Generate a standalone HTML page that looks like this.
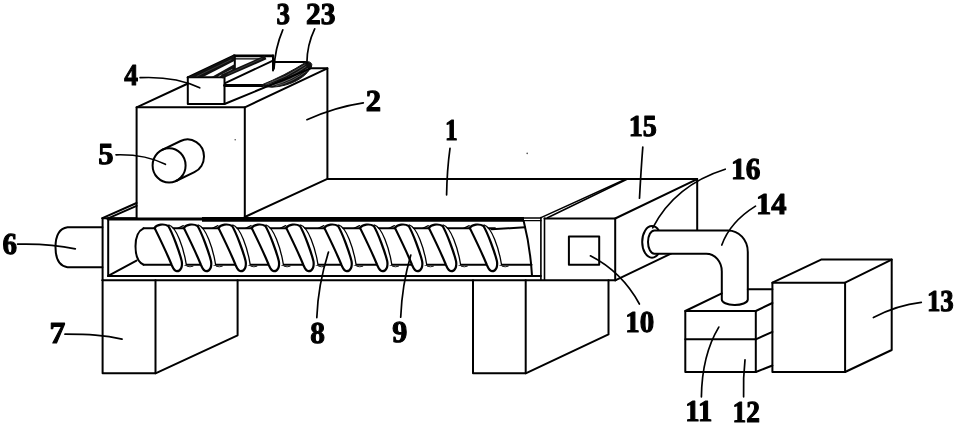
<!DOCTYPE html>
<html><head><meta charset="utf-8"><title>Figure</title>
<style>
html,body{margin:0;padding:0;background:#fff;}
svg{display:block;filter:grayscale(1) blur(0.45px);}
svg text{text-rendering:geometricPrecision;font-family:"Liberation Serif","DejaVu Serif",serif;font-weight:bold;fill:#000;stroke:#000;stroke-width:1.1px;stroke-linejoin:round;}
#lab{opacity:0.999;}
</style></head><body>
<svg width="957" height="425" viewBox="0 0 957 425" fill="none" stroke="#000" stroke-width="2" stroke-linecap="round" stroke-linejoin="round">
<rect x="0" y="0" width="957" height="425" fill="#fff" stroke="none"/>
<path d="M136.6 217.6 V107.3 H244.8 V217.6"/>
<path d="M244.8 107.3 L327.4 68.4 V178.8 L244.8 217"/>
<path d="M136.6 107.3 L188 83.5"/>
<ellipse cx="169.1" cy="165.4" rx="16.5" ry="17.2"/>
<path d="M162.2 149.8 L180.6 141 A16.5 17.2 0 0 1 204 156.6 A16.5 17.2 0 0 1 194.4 172.2 L176 181"/>
<path d="M187.8 77.3 H224.5 V104 H187.8 Z"/>
<path d="M187.6 77.4 L234.1 55.5"/>
<path d="M234.1 55.9 H273" stroke-width="2.7"/>
<path d="M273 55.5 V70.5"/>
<path d="M234.8 55.6 V70.2"/>
<path d="M235 58.8 H259" stroke-width="1.3"/>
<path d="M187.6 77.4 L234.1 55.3 L234.8 60.7 L202.6 77.2 Z" fill="#111" stroke="none"/>
<path d="M211.2 77.2 L234.8 63.9 L234.8 69.9 L221.4 77.2 Z" fill="#111" stroke="none"/>
<path d="M219 76.2 L232 69.6" stroke-width="0.7" stroke="#ddd"/>
<path d="M197 76.2 L231 59.8" stroke-width="0.4" stroke="#777"/>
<path d="M221.8 76.6 L265.6 57.4" stroke-width="4.3" stroke-linecap="butt" stroke="#111"/>
<path d="M228 74 L262 58.6" stroke-width="0.4" stroke="#777"/>
<path d="M225.1 83.2 L273 60.6"/>
<path d="M224.6 85.5 H262.5" stroke-width="2.9"/>
<path d="M273 62.1 H305.5"/>
<path d="M260.5 85.4 Q285 75.5 305.6 62.4 Q310.2 60.4 311.8 64.5 Q312.2 67.3 309.5 69.6 C304.5 77.6, 291 86.2, 272 87.2 Q266 87.2 260.5 85.4 Z" fill="#111" stroke="#111" stroke-width="1"/>
<path d="M268 84.9 Q288 79.5 306 66.5" stroke-width="0.5" stroke="#999"/>
<path d="M272 85.6 Q291 81 307.5 68.6" stroke-width="0.6" stroke="#aaa"/>
<path d="M276 86 Q293 82 308 70" stroke-width="0.5" stroke="#999"/>
<path d="M266 84.3 Q286 77.5 305 64.8" stroke-width="0.5" stroke="#999"/>
<path d="M224.5 104 L311.5 68.2 H327.4"/>
<path d="M327.4 178.9 H697.2"/>
<path d="M102.6 218.2 V280.3"/>
<path d="M108.2 220.6 V275.9"/>
<path d="M102.4 280.3 H615.7"/>
<path d="M108.2 275.9 H540.9"/>
<path d="M102.4 218.2 H136.6"/>
<path d="M102.4 218.2 L136.6 203"/>
<path d="M107.5 218.6 L136.6 205.8"/>
<path d="M108.2 275.9 L136.5 260.6"/>
<path d="M108.2 219 H203" stroke-width="3.1"/>
<path d="M202 219.4 H524" stroke-width="4.8" stroke-linecap="butt"/>
<path d="M523 218 H541" stroke-width="1.3"/>
<path d="M523 220.7 H541" stroke-width="1.3"/>
<path d="M540.9 217.6 V280.3 M544.5 218.2 V280.3" stroke-width="1.6"/>
<path d="M102.4 227.2 H67.5 Q55.5 229 55.5 247.2 Q55.5 265.5 67.5 267.2 H102.4"/>
<path d="M102.6 280.3 V373.3 H155.5 V280.3"/>
<path d="M155.5 373.3 L237.6 335.3 V280.3"/>
<path d="M473 280.3 V373.3 H525.7 V280.3"/>
<path d="M525.7 373.3 L608.5 334.4 V280.3"/>
<path d="M544.5 218.5 H615.2 V280.3"/>
<path d="M615.2 218.5 L697.2 179.1 V230.4"/>
<path d="M615.2 280.3 L671 253.6"/>
<path d="M541 217.6 L625.5 179.3" stroke-width="1.5"/>
<path d="M547.5 217.8 L627 179.3" stroke-width="1.5"/>
<path d="M568.9 236.5 H599.2 V264.8 H568.9 Z"/>
<ellipse cx="652" cy="241.9" rx="9.8" ry="15.8"/>
<path d="M654.4 230.4 H728 A19.8 21.5 0 0 1 747.8 251.9 V299.6 A13 5.6 0 0 1 721.8 299.2 V271.5 A15.5 17.8 0 0 0 706.3 253.7 H654.4 A6.4 11.65 0 0 1 654.4 230.4 Z" fill="#fff"/>
<path d="M685.3 311 H755.8 V372 H685.3 Z"/>
<path d="M685.3 339.3 H755.8"/>
<path d="M755.8 311 L772.4 303 M755.8 339.3 L772.4 331.8 M755.8 372 L772.4 365.5"/>
<path d="M685.3 311 L721.8 293.3"/>
<path d="M747.8 289.2 H772.4"/>
<path d="M772.4 282.7 H845.1 V372 H772.4 Z"/>
<path d="M772.4 282.7 L821.1 259.6 H891.7 V350 L845.1 372"/>
<path d="M845.1 282.7 L891.7 259.6"/>
<path d="M143.5 228.3 Q135.5 232 135.5 246.3 Q135.5 261 143.5 264.7"/>
<path d="M143.5 228.3 H495 M143.5 264.7 H531.5"/>
<path d="M491.5 229.3 L525 227.3"/>
<path d="M523.8 221.4 C527.5 236 530.8 256 532 275.6"/>
<path d="M167.5 225 C176.5 227.5 183.5 247 186.3 264.6 L181.5 267 L166.5 230 Z" fill="#fff" stroke="none"/>
<path d="M169.0 225 C176.5 227.5 183.5 247 186.3 264.6" stroke-width="1.3"/>
<path d="M154.5 227.8 C157.0 224.3 164.0 223.4 168.3 226 C172.5 233 179.5 252 181.7 261 C182.7 266.5 180.8 271.3 176.8 271.2 C173.9 270.8 173.3 268.5 171.5 264.5 C165.5 250 160.5 240 154.5 227.8 Z" stroke-width="2.2" fill="#fff"/>
<path d="M187.0 266.3 Q190.0 267.4 193.0 266.3" stroke-width="0.9"/>
<path d="M196.8 225 C205.8 227.5 212.8 247 215.6 264.6 L210.8 267 L195.8 230 Z" fill="#fff" stroke="none"/>
<path d="M198.3 225 C205.8 227.5 212.8 247 215.6 264.6" stroke-width="1.3"/>
<path d="M183.8 227.8 C186.3 224.3 193.3 223.4 197.6 226 C201.8 233 208.8 252 211.0 261 C212.0 266.5 210.1 271.3 206.1 271.2 C203.2 270.8 202.6 268.5 200.8 264.5 C194.8 250 189.8 240 183.8 227.8 Z" stroke-width="2.2" fill="#fff"/>
<path d="M216.3 266.3 Q219.3 267.4 222.3 266.3" stroke-width="0.9"/>
<path d="M177.8 228.3 L183.3 225.6" stroke-width="1.2"/>
<path d="M231.4 225 C240.4 227.5 247.4 247 250.2 264.6 L245.4 267 L230.4 230 Z" fill="#fff" stroke="none"/>
<path d="M232.9 225 C240.4 227.5 247.4 247 250.2 264.6" stroke-width="1.3"/>
<path d="M218.4 227.8 C220.9 224.3 227.9 223.4 232.2 226 C236.4 233 243.4 252 245.6 261 C246.6 266.5 244.7 271.3 240.7 271.2 C237.8 270.8 237.2 268.5 235.4 264.5 C229.4 250 224.4 240 218.4 227.8 Z" stroke-width="2.2" fill="#fff"/>
<path d="M250.9 266.3 Q253.9 267.4 256.9 266.3" stroke-width="0.9"/>
<path d="M212.4 228.3 L217.9 225.6" stroke-width="1.2"/>
<path d="M264.6 225 C273.6 227.5 280.6 247 283.4 264.6 L278.6 267 L263.6 230 Z" fill="#fff" stroke="none"/>
<path d="M266.1 225 C273.6 227.5 280.6 247 283.4 264.6" stroke-width="1.3"/>
<path d="M251.6 227.8 C254.1 224.3 261.1 223.4 265.4 226 C269.6 233 276.6 252 278.8 261 C279.8 266.5 277.9 271.3 273.9 271.2 C271.0 270.8 270.4 268.5 268.6 264.5 C262.6 250 257.6 240 251.6 227.8 Z" stroke-width="2.2" fill="#fff"/>
<path d="M284.1 266.3 Q287.1 267.4 290.1 266.3" stroke-width="0.9"/>
<path d="M245.6 228.3 L251.1 225.6" stroke-width="1.2"/>
<path d="M299.2 225 C308.2 227.5 315.2 247 318.0 264.6 L313.2 267 L298.2 230 Z" fill="#fff" stroke="none"/>
<path d="M300.7 225 C308.2 227.5 315.2 247 318.0 264.6" stroke-width="1.3"/>
<path d="M286.2 227.8 C288.7 224.3 295.7 223.4 300.0 226 C304.2 233 311.2 252 313.4 261 C314.4 266.5 312.5 271.3 308.5 271.2 C305.6 270.8 305.0 268.5 303.2 264.5 C297.2 250 292.2 240 286.2 227.8 Z" stroke-width="2.2" fill="#fff"/>
<path d="M318.7 266.3 Q321.7 267.4 324.7 266.3" stroke-width="0.9"/>
<path d="M280.2 228.3 L285.7 225.6" stroke-width="1.2"/>
<path d="M337.3 225 C346.3 227.5 353.3 247 356.1 264.6 L351.3 267 L336.3 230 Z" fill="#fff" stroke="none"/>
<path d="M338.8 225 C346.3 227.5 353.3 247 356.1 264.6" stroke-width="1.3"/>
<path d="M324.3 227.8 C326.8 224.3 333.8 223.4 338.1 226 C342.3 233 349.3 252 351.5 261 C352.5 266.5 350.6 271.3 346.6 271.2 C343.7 270.8 343.1 268.5 341.3 264.5 C335.3 250 330.3 240 324.3 227.8 Z" stroke-width="2.2" fill="#fff"/>
<path d="M356.8 266.3 Q359.8 267.4 362.8 266.3" stroke-width="0.9"/>
<path d="M318.3 228.3 L323.8 225.6" stroke-width="1.2"/>
<path d="M373 225 C382 227.5 389 247 391.8 264.6 L387 267 L372 230 Z" fill="#fff" stroke="none"/>
<path d="M374.5 225 C382 227.5 389 247 391.8 264.6" stroke-width="1.3"/>
<path d="M360 227.8 C362.5 224.3 369.5 223.4 373.8 226 C378 233 385 252 387.2 261 C388.2 266.5 386.3 271.3 382.3 271.2 C379.4 270.8 378.8 268.5 377 264.5 C371 250 366 240 360 227.8 Z" stroke-width="2.2" fill="#fff"/>
<path d="M392.5 266.3 Q395.5 267.4 398.5 266.3" stroke-width="0.9"/>
<path d="M354 228.3 L359.5 225.6" stroke-width="1.2"/>
<path d="M407.9 225 C416.9 227.5 423.9 247 426.7 264.6 L421.9 267 L406.9 230 Z" fill="#fff" stroke="none"/>
<path d="M409.4 225 C416.9 227.5 423.9 247 426.7 264.6" stroke-width="1.3"/>
<path d="M394.9 227.8 C397.4 224.3 404.4 223.4 408.7 226 C412.9 233 419.9 252 422.1 261 C423.1 266.5 421.2 271.3 417.2 271.2 C414.3 270.8 413.7 268.5 411.9 264.5 C405.9 250 400.9 240 394.9 227.8 Z" stroke-width="2.2" fill="#fff"/>
<path d="M427.4 266.3 Q430.4 267.4 433.4 266.3" stroke-width="0.9"/>
<path d="M388.9 228.3 L394.4 225.6" stroke-width="1.2"/>
<path d="M441.8 225 C450.8 227.5 457.8 247 460.6 264.6 L455.8 267 L440.8 230 Z" fill="#fff" stroke="none"/>
<path d="M443.3 225 C450.8 227.5 457.8 247 460.6 264.6" stroke-width="1.3"/>
<path d="M428.8 227.8 C431.3 224.3 438.3 223.4 442.6 226 C446.8 233 453.8 252 456.0 261 C457.0 266.5 455.1 271.3 451.1 271.2 C448.2 270.8 447.6 268.5 445.8 264.5 C439.8 250 434.8 240 428.8 227.8 Z" stroke-width="2.2" fill="#fff"/>
<path d="M461.3 266.3 Q464.3 267.4 467.3 266.3" stroke-width="0.9"/>
<path d="M422.8 228.3 L428.3 225.6" stroke-width="1.2"/>
<path d="M482.7 225 C491.7 227.5 498.7 247 501.5 264.6 L496.7 267 L481.7 230 Z" fill="#fff" stroke="none"/>
<path d="M484.2 225 C491.7 227.5 498.7 247 501.5 264.6" stroke-width="1.3"/>
<path d="M469.7 227.8 C472.2 224.3 479.2 223.4 483.5 226 C487.7 233 494.7 252 496.9 261 C497.9 266.5 496.0 271.3 492.0 271.2 C489.1 270.8 488.5 268.5 486.7 264.5 C480.7 250 475.7 240 469.7 227.8 Z" stroke-width="2.2" fill="#fff"/>
<path d="M502.2 266.3 Q505.2 267.4 508.2 266.3" stroke-width="0.9"/>
<path d="M463.7 228.3 L469.2 225.6" stroke-width="1.2"/>
<circle cx="235.2" cy="139.8" r="0.8" fill="#555" stroke="none"/>
<circle cx="527.2" cy="153.4" r="0.8" fill="#555" stroke="none"/>
<path d="M282.8 29.8 Q275 48 274 69" stroke-width="1.7"/>
<path d="M314.7 28.8 Q307 45 306.9 62.7" stroke-width="1.7"/>
<path d="M140.1 77.7 Q175 76 199.7 87.8" stroke-width="1.7"/>
<path d="M363.3 102.8 Q335 107 306.9 119.7" stroke-width="1.7"/>
<path d="M450 148.3 Q447 170 446.6 194.8" stroke-width="1.7"/>
<path d="M116 154.8 Q145 154 165.4 164.3" stroke-width="1.7"/>
<path d="M17.6 244.2 C40 243.6 55 244.5 75.3 248.9" stroke-width="1.7"/>
<path d="M65 334.2 C88 334.4 104 334.8 122 339.2" stroke-width="1.7"/>
<path d="M328.5 252 Q318 285 316.8 317.6" stroke-width="1.7"/>
<path d="M410.8 255 Q402 285 400.7 317.2" stroke-width="1.7"/>
<path d="M590.4 255.8 Q622 272 639.4 304" stroke-width="1.7"/>
<path d="M642.8 147.1 Q641 170 639.5 198.2" stroke-width="1.7"/>
<path d="M725.2 169.2 Q675 185 652.7 227.8" stroke-width="1.7"/>
<path d="M755.5 206.1 Q730 222 721.8 245" stroke-width="1.7"/>
<path d="M718.8 327.1 Q702 355 701.4 396.8" stroke-width="1.7"/>
<path d="M745 359.8 Q743 378 743.6 396.8" stroke-width="1.7"/>
<path d="M873.4 317.5 Q897 305 921.3 302.3" stroke-width="1.7"/>
<g id="lab">
<text x="276.4" y="24.4" font-size="30.4" textLength="13.5" lengthAdjust="spacingAndGlyphs">3</text>
<text x="305.9" y="24.4" font-size="30.4" textLength="29.5" lengthAdjust="spacingAndGlyphs">23</text>
<text x="124.3" y="85.2" font-size="30.4" textLength="13.8" lengthAdjust="spacingAndGlyphs">4</text>
<text x="365.8" y="111.2" font-size="30.4" textLength="15.3" lengthAdjust="spacingAndGlyphs">2</text>
<text x="445.1" y="139.9" font-size="30.4" textLength="12.7" lengthAdjust="spacingAndGlyphs">1</text>
<text x="98.2" y="163.9" font-size="30.4" textLength="15.3" lengthAdjust="spacingAndGlyphs">5</text>
<text x="2.5" y="253.5" font-size="30.4" textLength="14.5" lengthAdjust="spacingAndGlyphs">6</text>
<text x="49.6" y="343.1" font-size="30.4" textLength="15.8" lengthAdjust="spacingAndGlyphs">7</text>
<text x="310.2" y="342.7" font-size="30.4" textLength="14.7" lengthAdjust="spacingAndGlyphs">8</text>
<text x="392.2" y="342.4" font-size="30.4" textLength="15.1" lengthAdjust="spacingAndGlyphs">9</text>
<text x="625.3" y="331.7" font-size="30.4" textLength="28.9" lengthAdjust="spacingAndGlyphs">10</text>
<text x="628.7" y="136.3" font-size="30.4" textLength="28.2" lengthAdjust="spacingAndGlyphs">15</text>
<text x="731.0" y="178.8" font-size="30.4" textLength="29.3" lengthAdjust="spacingAndGlyphs">16</text>
<text x="756.0" y="213.5" font-size="30.4" textLength="30.5" lengthAdjust="spacingAndGlyphs">14</text>
<text x="685.3" y="421.3" font-size="30.4" textLength="27.1" lengthAdjust="spacingAndGlyphs">11</text>
<text x="732.6" y="421.5" font-size="30.4" textLength="27.4" lengthAdjust="spacingAndGlyphs">12</text>
<text x="926.9" y="311.1" font-size="30.4" textLength="26.9" lengthAdjust="spacingAndGlyphs">13</text>
</g>
</svg>
</body></html>
